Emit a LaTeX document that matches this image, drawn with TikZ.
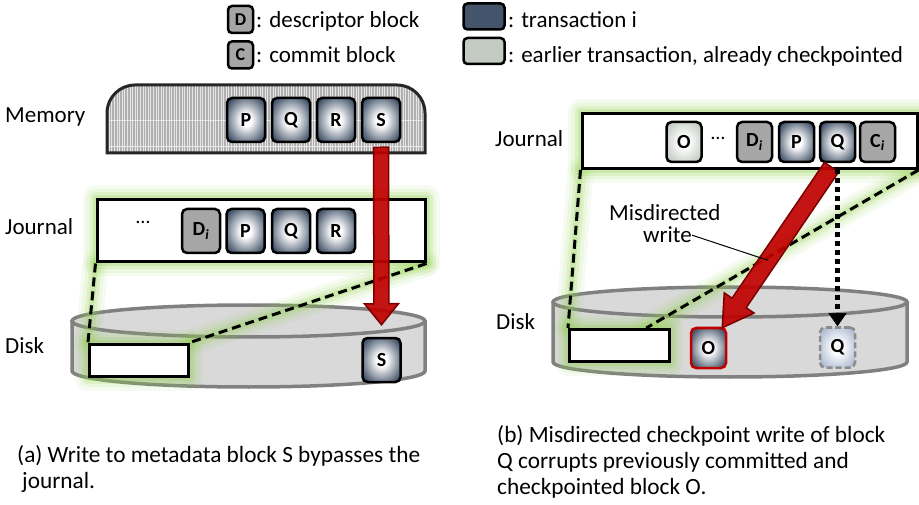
\documentclass[tikz,border=0pt]{standalone}
\usepackage{fontspec}
\setmainfont{Carlito}
\usetikzlibrary{arrows.meta,patterns.meta,calc}
\pgfdeclarelayer{bg}
\pgfdeclarelayer{glowl}
\pgfsetlayers{bg,glowl,main}
\definecolor{blockblue}{HTML}{44546A}
\definecolor{dgray}{HTML}{A6A6A6}
\definecolor{earlier}{HTML}{C3CBC3}
\definecolor{diskfill}{HTML}{D9D9D9}
\definecolor{diskline}{HTML}{808080}
\definecolor{glowc}{HTML}{92D050}
\definecolor{arrred}{HTML}{C00000}
\definecolor{arrdark}{HTML}{7A0000}
\definecolor{ghost}{HTML}{AFBCD2}
\pgfdeclareradialshading{glowblue}{\pgfpoint{0bp}{0bp}}{color(0bp)=(white); color(7bp)=(white); color(30bp)=(blockblue); color(50bp)=(blockblue)}
\pgfdeclareradialshading{glowold}{\pgfpoint{0bp}{0bp}}{color(0bp)=(white); color(7bp)=(white); color(30bp)=(earlier); color(50bp)=(earlier)}
\pgfdeclareradialshading{glowghost}{\pgfpoint{0bp}{0bp}}{color(0bp)=(white); color(7bp)=(white); color(30bp)=(ghost); color(50bp)=(ghost)}
\newcommand\glowpath[1]{%
  \foreach \w/\o in {26/0.08,19/0.11,12/0.16,6/0.24}{%
    \draw[glowc, line width=\w pt, opacity=\o, line cap=round, line join=round, solid] #1;}}
% #1 start, #2 tip, #3 shaft half width, #4 head length, #5 head half width
\newcommand\bigarrow[5]{%
  \draw[fill=arrred, fill opacity=0.92, draw=arrdark, line width=1.5pt, line join=miter]
    let \p1=#1, \p2=#2, \n1={atan2(\y2-\y1,\x2-\x1)}, \n2={veclen(\x2-\x1,\y2-\y1)} in
    [shift={(\p1)}, rotate=\n1]
    (0,-#3) -- (\n2-#4,-#3) -- (\n2-#4,-#5) -- (\n2,0) -- (\n2-#4,#5) -- (\n2-#4,#3) -- (0,#3) -- cycle;}
\begin{document}
\begin{tikzpicture}[x=1pt,y=-1pt,
  lbl/.style={inner sep=0pt, anchor=base west, font=\fontsize{23}{26}\selectfont},
  capt/.style={inner sep=0pt, anchor=base west, font=\fontsize{23.3}{26}\selectfont},
  blk/.style={draw=black, line width=2.5pt, rounded corners=5pt, minimum width=38pt, minimum height=44pt, inner sep=0pt, font=\bfseries\fontsize{20}{20}\selectfont},
  sblk/.style={blk, minimum width=35pt, minimum height=40pt},
  txn/.style={shading=glowblue},
  desc/.style={fill=dgray},
  old/.style={shading=glowold},
  legbox/.style={draw=black, line width=2.5pt, rounded corners=4pt, minimum width=25pt, minimum height=27pt, inner sep=0pt, font=\bfseries\fontsize{18}{18}\selectfont},
  jbox/.style={draw=black, line width=3pt, fill=white, inner sep=0pt},
  drect/.style={draw=black, line width=3pt, fill=white, inner sep=0pt},
  dashln/.style={line width=3pt, dash pattern=on 9pt off 5pt},
  dots/.style={inner sep=0pt, font=\fontsize{20}{20}\selectfont},
  diskst/.style={draw=diskline, line width=3.5pt}
]
\path[use as bounding box] (0,0) rectangle (919,505);

% ---------- legend ----------
\node[legbox, fill=dgray] (lgD) at (240.5,19.5) {D};
\node[legbox, fill=dgray] (lgC) at (240.5,55) {C};
\node[lbl] (lgDt) at (256,28) {: descriptor block};
\node[lbl] (lgCt) at (256,63) {: commit block};
\node[legbox, minimum width=41pt, minimum height=26pt, fill=blockblue] (lgT) at (484,16.5) {};
\node[legbox, minimum width=41pt, minimum height=26pt, fill=earlier] (lgE) at (484,51) {};
\node[lbl] (lgTt) at (508,28) {: transaction i};
\node[lbl] (lgEt) at (508,63) {: earlier transaction, already checkpointed};

% ---------- memory ----------
\path[preaction={fill=gray!62}, pattern={Lines[angle=90,distance=2.6pt,line width=0.7pt]}, pattern color=gray!20]
  (107,153) -- (107,113) arc[start angle=180, end angle=270, radius=28] -- (397,85) arc[start angle=270, end angle=360, radius=28] -- (425,153) -- cycle;
\draw[white, line width=0.8pt, opacity=0.6] (109,120) -- (423,120) (109,146) -- (423,146);
\draw[black!85, line width=3pt]
  (107,153) -- (107,113) arc[start angle=180, end angle=270, radius=28] -- (397,85) arc[start angle=270, end angle=360, radius=28] -- (425,153) -- cycle;
\node[lbl] (memlbl) at (5,123) {Memory};
\node[blk, txn] (Pm) at (246,120) {P};
\node[blk, txn] (Qm) at (291,120) {Q};
\node[blk, txn] (Rm) at (336,120) {R};
\node[blk, txn] (Sm) at (381,120) {S};

% ---------- disks (background) ----------
\begin{pgfonlayer}{bg}
  \fill[diskfill] (72,321) -- (72,371) arc[start angle=180,end angle=0,x radius=176.5,y radius=16] -- (425,321) -- cycle;
  \draw[diskst] (72,321) -- (72,371) arc[start angle=180,end angle=0,x radius=176.5,y radius=16] -- (425,321);
  \draw[diskst, fill=diskfill] (248.5,321) ellipse[x radius=176.5, y radius=16];
  \fill[diskfill] (553,302) -- (553,362) arc[start angle=180,end angle=0,x radius=177,y radius=15] -- (907,302) -- cycle;
  \draw[diskst] (553,302) -- (553,362) arc[start angle=180,end angle=0,x radius=177,y radius=15] -- (907,302);
  \draw[diskst, fill=diskfill] (730,302) ellipse[x radius=177, y radius=15];
\end{pgfonlayer}

% ---------- (a) journal and disk ----------
\node[jbox, minimum width=328pt, minimum height=62pt] (ja) at (261,231) {};
\node[lbl] (jalbl) at (5,235) {Journal};
\node[dots] (dota) at (143,222) {\ldots};
\node[blk, desc] (Dia) at (201,231) {D\textsubscript{\textit{i}}};
\node[blk, txn] (Pa) at (245.5,231) {P};
\node[blk, txn] (Qa) at (291,231) {Q};
\node[blk, txn] (Ra) at (336,231) {R};
\node[drect, minimum width=99pt, minimum height=32pt] (ra) at (139,360) {};
\node[blk, txn] (Sd) at (381.5,360) {S};
\node[lbl] (dalbl) at (5,353) {Disk};
\draw[dashln] (ja.south west) -- (ra.north west);
\draw[dashln] (ja.south east) -- (ra.north east);
\begin{pgfonlayer}{glowl}
  \glowpath{(ja.south west) rectangle (ja.north east)}
  \glowpath{(ra.south west) rectangle (ra.north east)}
  \glowpath{(ja.south west) -- (ra.north west)}
  \glowpath{(ja.south east) -- (ra.north east)}
\end{pgfonlayer}
\bigarrow{($(Sm.south)+(0,4)$)}{($(Sd.north)+(0,-12)$)}{7.5}{21}{17}

% ---------- (b) journal and disk ----------
\node[jbox, minimum width=335pt, minimum height=55pt] (jb) at (749.5,141) {};
\node[lbl] (jblbl) at (495,147) {Journal};
\node[sblk, old] (Oj) at (684,142) {O};
\node[dots] (dotb) at (718,138) {\ldots};
\node[sblk, desc] (Dib) at (754.5,142) {D\textsubscript{\textit{i}}};
\node[sblk, txn] (Pb) at (796.5,142) {P};
\node[sblk, txn] (Qj) at (837.5,142) {Q};
\node[sblk, desc] (Cib) at (877.5,142) {C\textsubscript{\textit{i}}};
\node[drect, minimum width=100pt, minimum height=32pt] (rb) at (619.5,345.5) {};
\node[sblk, txn, draw=arrred] (Od) at (708.5,348) {O};
\node[sblk, shading=glowghost, draw=gray!90, dash pattern=on 6pt off 3pt] (Qd) at (837.5,347.5) {Q};
\node[lbl] (dblbl) at (496,330) {Disk};
\coordinate (rbend) at ($(rb.north west)!0.76!(rb.north east)$);
\begin{pgfonlayer}{glowl}
  \glowpath{(jb.south west) rectangle (jb.north east)}
  \glowpath{(rb.south west) rectangle (rb.north east)}
  \glowpath{(jb.south west) -- (rb.north west)}
  \glowpath{(jb.south east) -- (rbend)}
\end{pgfonlayer}
\draw[dashln] (jb.south west) -- (rb.north west);
\draw[dashln] (jb.south east) -- (rbend);
\coordinate (qa) at ($(Qj.south)+(-6,4)$);
\coordinate (qb) at ($(Od.north east)+(-5,1)$);
\bigarrow{(qa)}{(qb)}{8.5}{30}{18}
\draw[line width=5pt, dash pattern=on 5pt off 4pt, -{Triangle[length=13pt,width=18pt,line width=0.5pt]}] ($(Qj.south)+(0,6)$) -- (Qd.north);
\node[lbl] (misd1) at (609,221) {Misdirected};
\node[lbl] (misd2) at (643,243) {write};
\coordinate (lead) at ($(qa)!0.58!(qb)$);
\draw[line width=1pt] (misd2.east) -- (lead);

% ---------- captions ----------
\node[capt] (ca1) at (17,462) {(a) Write to metadata block S bypasses the};
\node[capt] (ca2) at (22,488) {journal.};
\node[capt] (cb1) at (497,442) {(b) Misdirected checkpoint write of block};
\node[capt] (cb2) at (497,468) {Q corrupts previously committed and};
\node[capt] (cb3) at (497,494) {checkpointed block O.};
\end{tikzpicture}
\end{document}
